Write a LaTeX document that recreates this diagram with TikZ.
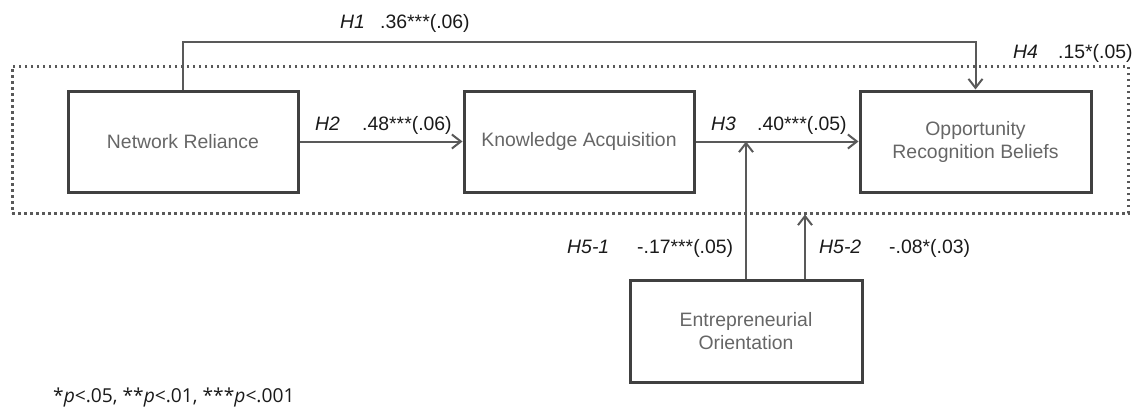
\documentclass[tikz,border=0pt]{standalone}
\usepackage{fontspec}
\setmainfont{Liberation Sans}
\newfontfamily\notefont{Open Sans}
\usetikzlibrary{arrows.meta}
\definecolor{boxline}{HTML}{404040}
\definecolor{conncol}{HTML}{595959}
\definecolor{boxtext}{HTML}{666666}
\definecolor{labtext}{HTML}{1A1A1A}
\begin{document}
\begin{tikzpicture}[x=1pt,y=-1pt,
  var/.style={draw=boxline, line width=3pt, minimum width=230pt, minimum height=101pt,
    inner sep=0pt, align=center, text=boxtext, font=\fontsize{19.4}{23}\selectfont},
  conn/.style={draw=conncol, line width=2pt},
  arr/.style={conn, -{Straight Barb[length=9pt,width=14pt,line width=2pt]}},
  lab/.style={anchor=base west, inner sep=0pt, text=labtext, font=\fontsize{19.4}{23}\selectfont},
  framebox/.style={draw=conncol, line width=3pt, dash pattern=on 2.5pt off 3.5pt,
    minimum width=1116pt, minimum height=147pt, inner sep=0pt}]
\useasboundingbox (0,0) rectangle (1134,410);

\node[framebox] (frame) at (570,139.5) {};

\node[var] (NR)  at (183,141.5) {Network Reliance};
\node[var] (KA)  at (579,141.5) {Knowledge Acquisition};
\node[var, minimum width=231pt] (ORB) at (975.5,141.5) {Opportunity\\Recognition Beliefs};
\node[var, minimum width=232pt, minimum height=102pt] (EO) at (746,331) {Entrepreneurial\\Orientation};

\coordinate (h1y) at (0,42);
\draw[arr] (NR.north) -- (NR.north |- h1y) -| (ORB.north);
\draw[arr] (NR.east) -- (KA.west);
\draw[arr] (KA.east) -- (ORB.west);
\draw[arr] (EO.north) -- (EO.north |- KA.east);
\coordinate (h52) at ([xshift=59pt]EO.north);
\draw[arr] (h52) -- (h52 |- frame.south);

\node[lab] (h1n) at (340,28) {\textit{H1}};
\node[lab] (h1v) at (380,28) {.36***(.06)};
\node[lab] (h2n) at (315,130) {\textit{H2}};
\node[lab] (h2v) at (362,130) {.48***(.06)};
\node[lab] (h3n) at (711,130) {\textit{H3}};
\node[lab] (h3v) at (757,130) {.40***(.05)};
\node[lab] (h4n) at (1013,58) {\textit{H4}};
\node[lab] (h4v) at (1058,58) {.15*(.05)};
\node[lab] (h51n) at (567,253) {\textit{H5-1}};
\node[lab] (h51v) at (637,253) {-.17***(.05)};
\node[lab] (h52n) at (819,253) {\textit{H5-2}};
\node[lab] (h52v) at (889,253) {-.08*(.03)};

\node[anchor=base west, inner sep=0pt, text=labtext, font=\notefont\fontsize{19.2}{22}\selectfont] (note) at (53,402)
  {*\textit{p}<.05, **\textit{p}<.01, ***\textit{p}<.001};
\end{tikzpicture}
\end{document}
